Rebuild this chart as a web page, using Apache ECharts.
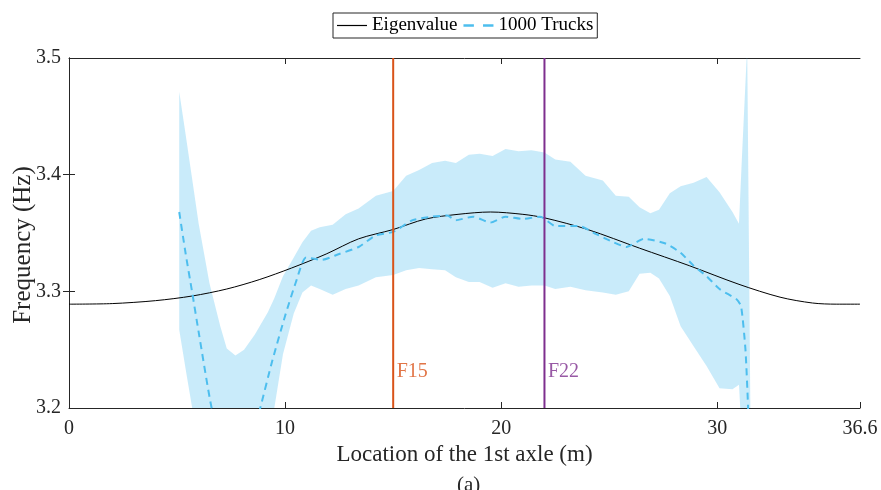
<!DOCTYPE html>
<html>
<head>
<meta charset="utf-8">
<script src="https://cdn.jsdelivr.net/npm/echarts@6/dist/echarts.min.js"></script>
<style>
html,body{margin:0;padding:0;background:#fff;}
#chart{width:881px;height:490px;}
</style>
</head>
<body>
<div id="chart"></div>
<script>
// ---- data ----
const xTicks = [0, 10, 20, 30, 36.6];
const xTopTicks = [10, 20, 30];
const yTicks = [3.2, 3.3, 3.4, 3.5];
const yRightTicks = [3.3, 3.4];

const eigX = [0, 2, 4, 5.7, 7.3, 8.8, 10.3, 11.9, 13.4, 15, 16.5, 18, 19.5, 21, 22, 24, 26.4, 28.7, 31, 32.9, 34.4, 35.5, 36.6];
const eigY = [3.289, 3.2895, 3.292, 3.296, 3.302, 3.310, 3.320, 3.332, 3.345, 3.353, 3.362, 3.366, 3.368, 3.366, 3.363, 3.353, 3.337, 3.322, 3.306, 3.295, 3.290, 3.289, 3.289];

const meanX = [5.1, 5.4, 5.7, 6.0, 6.6, 7.2, 7.7, 8.3, 8.85, 9.4, 10.0, 10.5, 10.97, 11.7, 12.5, 13.4, 14.2, 15.0, 15.9, 16.8, 17.5, 17.9, 18.7, 19.5, 20.2, 21.0, 21.8, 22.5, 23.6, 24.4, 25.2, 25.8, 26.6, 27.6, 28.3, 28.9, 29.5, 30.1, 30.9, 31.1, 31.3, 31.42, 31.5];
const meanY = [3.368, 3.332, 3.299, 3.265, 3.200, 3.16, 3.15, 3.16, 3.200, 3.240, 3.279, 3.308, 3.329, 3.327, 3.332, 3.338, 3.348, 3.351, 3.361, 3.364, 3.365, 3.361, 3.364, 3.359, 3.364, 3.362, 3.364, 3.356, 3.356, 3.349, 3.342, 3.338, 3.345, 3.341, 3.333, 3.322, 3.313, 3.302, 3.293, 3.287, 3.250, 3.201, 3.15];

const bandX = [5.1, 5.4, 5.7, 6.0, 6.5, 7.0, 7.3, 7.7, 8.1, 8.6, 9.2, 9.5, 9.9, 10.4, 10.8, 11.2, 11.6, 12.2, 12.8, 13.4, 14.2, 15.0, 15.6, 16.2, 16.8, 17.4, 17.9, 18.5, 19.0, 19.6, 20.2, 20.8, 21.4, 22.0, 22.5, 23.2, 23.9, 24.7, 25.3, 25.9, 26.4, 26.9, 27.3, 27.8, 28.3, 28.9, 29.5, 30.1, 30.7, 31.0, 31.15, 31.38, 31.55];
const bandUpper = [3.471, 3.434, 3.396, 3.358, 3.307, 3.270, 3.251, 3.245, 3.250, 3.263, 3.282, 3.294, 3.313, 3.329, 3.342, 3.352, 3.355, 3.357, 3.366, 3.371, 3.382, 3.386, 3.399, 3.404, 3.410, 3.412, 3.410, 3.417, 3.418, 3.416, 3.422, 3.420, 3.421, 3.419, 3.413, 3.411, 3.399, 3.395, 3.382, 3.381, 3.372, 3.367, 3.370, 3.384, 3.390, 3.393, 3.398, 3.385, 3.368, 3.358, 3.42, 3.51, 3.15];
const bandLower = [3.267, 3.233, 3.200, 3.16, 3.12, 3.10, 3.10, 3.10, 3.10, 3.10, 3.15, 3.200, 3.246, 3.281, 3.299, 3.305, 3.302, 3.297, 3.302, 3.305, 3.312, 3.314, 3.318, 3.320, 3.319, 3.318, 3.312, 3.308, 3.308, 3.303, 3.307, 3.304, 3.305, 3.305, 3.302, 3.304, 3.301, 3.299, 3.297, 3.300, 3.315, 3.316, 3.311, 3.296, 3.270, 3.253, 3.236, 3.217, 3.216, 3.220, 3.17, 3.05, 3.00];

const markerNames = ['F15', 'F22'];
const markerX = [15, 22];
const markerLabelY = 3.2315;

// ---- styles ----
const FONT = '"Liberation Serif", "Times New Roman", serif';
const TXT = '#262626';
const markerColors = ['#D95319', '#7E2F8E'];
const yMin = 3.2, yMax = 3.5;

const chart = echarts.init(document.getElementById('chart'), null, {renderer: 'canvas'});

const axisLineStyle = {lineStyle: {color: TXT, width: 1}};

// clip a polygon (pixel coords) between two horizontal lines
function clipY(points, top, bottom) {
  function clipEdge(pts, inside, intersect) {
    const out = [];
    for (let i = 0; i < pts.length; i++) {
      const cur = pts[i], prev = pts[(i + pts.length - 1) % pts.length];
      const cIn = inside(cur), pIn = inside(prev);
      if (cIn) {
        if (!pIn) out.push(intersect(prev, cur));
        out.push(cur);
      } else if (pIn) {
        out.push(intersect(prev, cur));
      }
    }
    return out;
  }
  const atY = (yy) => (a, b) => {
    const t = (yy - a[1]) / (b[1] - a[1]);
    return [a[0] + t * (b[0] - a[0]), yy];
  };
  let p = clipEdge(points, q => q[1] >= top, atY(top));
  p = clipEdge(p, q => q[1] <= bottom, atY(bottom));
  return p;
}

const series = [
  {
    name: 'band', type: 'custom', silent: true, z: 1,
    data: [[bandX[0], bandLower[0]]],
    renderItem: function (params, api) {
      const pts = [];
      for (let i = 0; i < bandX.length; i++) pts.push(api.coord([bandX[i], bandUpper[i]]));
      for (let i = bandX.length - 1; i >= 0; i--) pts.push(api.coord([bandX[i], bandLower[i]]));
      const cs = params.coordSys;
      const clipped = clipY(pts, cs.y, cs.y + cs.height);
      return {
        type: 'polygon', shape: {points: clipped},
        style: {fill: 'rgba(77,190,238,0.3)', stroke: null}
      };
    }
  },
  {
    name: 'Eigenvalue', type: 'line', symbol: 'none', smooth: 0.3,
    data: eigX.map((x, i) => [x, eigY[i]]),
    lineStyle: {color: '#000000', width: 1}, itemStyle: {color: '#000000'}, z: 3
  },
  {
    name: '1000 Trucks', type: 'line', symbol: 'none', smooth: 0.2,
    data: meanX.map((x, i) => [x, meanY[i]]),
    lineStyle: {color: '#4DBEEE', width: 2, type: [7, 5]}, itemStyle: {color: '#4DBEEE'}, z: 4
  }
];

markerNames.forEach((nm, i) => {
  series.push({
    name: nm + ' line', type: 'line', symbol: 'none', silent: true,
    data: [[markerX[i], yMin], [markerX[i], yMax]],
    lineStyle: {color: markerColors[i], width: 2}, z: 5
  });
  series.push({
    name: nm + ' label', type: 'scatter', silent: true, symbolSize: 1,
    itemStyle: {color: 'transparent'},
    data: [[markerX[i], markerLabelY]],
    label: {show: true, position: 'right', distance: 3, formatter: nm,
            color: markerColors[i], fontFamily: FONT, fontSize: 20},
    z: 5
  });
});

const option = {
  backgroundColor: '#ffffff',
  animation: false,
  title: {
    text: '(a)', left: 452, top: 470,
    textStyle: {fontFamily: FONT, fontSize: 21, fontWeight: 'normal', color: TXT}
  },
  legend: {
    data: [
      {name: 'Eigenvalue', icon: 'path://M0,0H30V1.2H0Z'},
      {name: '1000 Trucks', icon: 'path://M0,0H8V2H0ZM15,0H23V2H15Z'}
    ],
    left: 333, top: 13,
    padding: [3, 4, 3, 4],
    itemWidth: 30, itemHeight: 14, itemGap: 6,
    borderColor: TXT, borderWidth: 1,
    backgroundColor: '#ffffff',
    textStyle: {fontFamily: FONT, fontSize: 19, color: '#000'}
  },
  grid: {left: 69, right: 21, top: 58, bottom: 82, show: false, outerBoundsMode: 'none', containLabel: false},
  xAxis: [
    {
      type: 'value', min: 0, max: 36.6, position: 'bottom',
      axisLine: axisLineStyle,
      axisTick: {inside: true, length: 6, lineStyle: {color: TXT}, customValues: xTicks},
      axisLabel: {customValues: xTicks, formatter: v => String(v), margin: 11,
                  fontFamily: FONT, fontSize: 20, color: TXT},
      splitLine: {show: false},
      name: 'Location of the 1st axle (m)', nameLocation: 'middle', nameGap: 35,
      nameMoveOverlap: false,
      nameTextStyle: {fontFamily: FONT, fontSize: 23, color: TXT}
    },
    {
      type: 'value', min: 0, max: 36.6, position: 'top',
      axisLine: axisLineStyle,
      axisTick: {inside: true, length: 6, lineStyle: {color: TXT}, customValues: xTopTicks},
      axisLabel: {show: false},
      splitLine: {show: false}
    }
  ],
  yAxis: [
    {
      type: 'value', min: yMin, max: yMax, position: 'left',
      axisLine: {show: true, lineStyle: {color: TXT, width: 1}},
      axisTick: {show: true, inside: true, length: 6, lineStyle: {color: TXT}, customValues: yTicks},
      axisLabel: {customValues: yTicks, formatter: v => v.toFixed(1), margin: 8,
                  fontFamily: FONT, fontSize: 20, color: TXT},
      splitLine: {show: false},
      name: 'Frequency (Hz)', nameLocation: 'middle', nameGap: 33, nameRotate: 90,
      nameMoveOverlap: false,
      nameTextStyle: {fontFamily: FONT, fontSize: 25, color: TXT, padding: [0, 24, 0, 0]}
    },
    {
      type: 'value', min: yMin, max: yMax, position: 'right',
      axisLine: {show: true, lineStyle: {color: TXT, width: 1}},
      axisTick: {show: true, inside: true, length: 6, lineStyle: {color: TXT}, customValues: yRightTicks},
      axisLabel: {show: false},
      splitLine: {show: false}
    }
  ],
  series: series
};

chart.setOption(option);
</script>
</body>
</html>
